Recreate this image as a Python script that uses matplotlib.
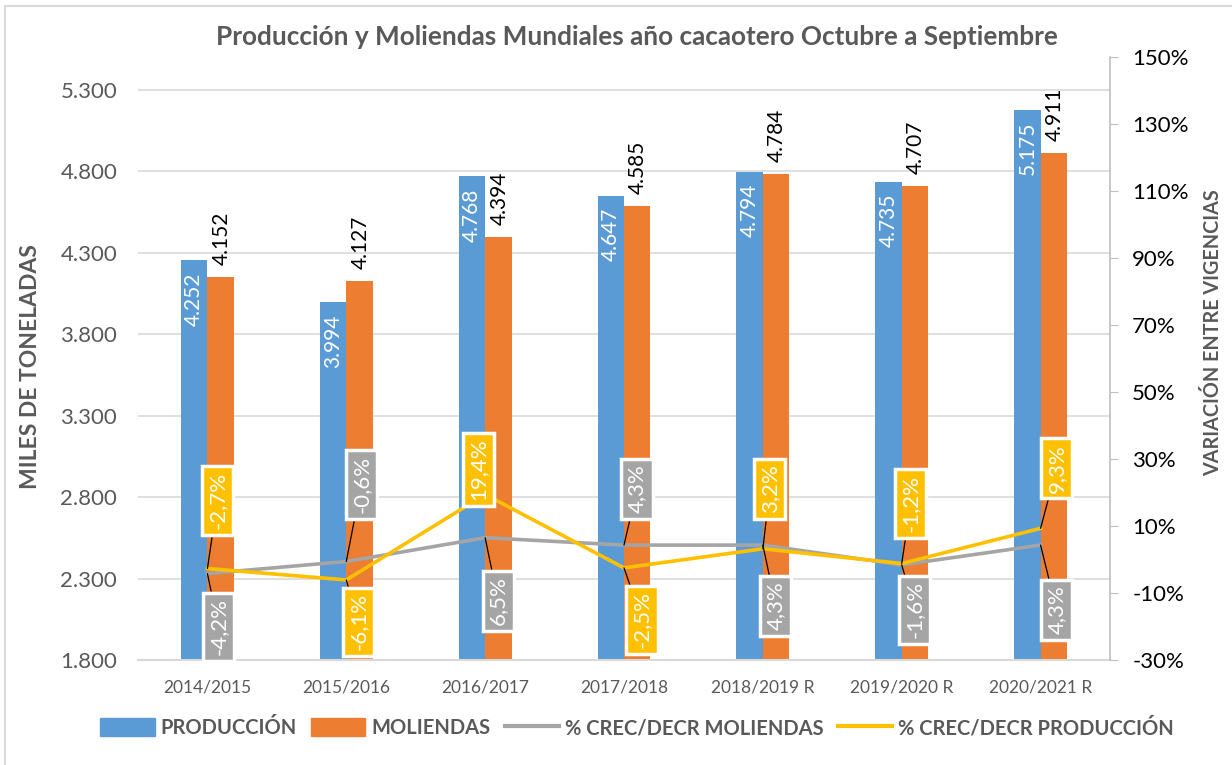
import matplotlib
matplotlib.use('Agg')
import matplotlib.pyplot as plt
from matplotlib.patches import Patch
from matplotlib.lines import Line2D

plt.rcParams['font.family'] = ['Lato', 'DejaVu Sans']

# data
years = ['2014/2015', '2015/2016', '2016/2017', '2017/2018',
         '2018/2019 R', '2019/2020 R', '2020/2021 R']
produccion = [4252, 3994, 4768, 4647, 4794, 4735, 5175]
moliendas = [4152, 4127, 4394, 4585, 4784, 4707, 4911]
pct_moliendas = [-4.2, -0.6, 6.5, 4.3, 4.3, -1.6, 4.3]
pct_produccion = [-2.7, -6.1, 19.4, -2.5, 3.2, -1.2, 9.3]

# label offsets (pixels) for the % boxes
off_prod = [(10, 68), (12, -42), (-7, 25), (18, -52), (7, 60), (9, 60), (16, 60)]
off_mol = [(11, -53), (15, 77), (13, -63), (13, 56), (13, -61), (13, -45), (16, -65)]

BLUE = '#5B9BD5'
ORANGE = '#ED7D31'
GRAY = '#A5A5A5'
YELLOW = '#FFC000'
TXT = '#595959'


def miles(v):
    return '{:,}'.format(v).replace(',', '.')


def pct(v):
    return '{:.1f}%'.format(v).replace('.', ',')


fig = plt.figure(figsize=(12.32, 7.65), dpi=100)
ax = fig.add_axes([138 / 1232, 1 - 660 / 765, (1110 - 138) / 1232, (660 - 57) / 765])

x = list(range(len(years)))
w = 0.19
ax.bar([i - w / 2 for i in x], produccion, w, color=BLUE, zorder=2)
ax.bar([i + w / 2 for i in x], moliendas, w, color=ORANGE, zorder=2)

ax.set_ylim(1800, 5500)
ax.set_xlim(-0.5, len(years) - 0.5)
ax.set_yticks(range(1800, 5301, 500))
ax.set_yticklabels([miles(t) for t in range(1800, 5301, 500)])
ax.set_xticks(x)
ax.set_xticklabels(years)
ax.tick_params(axis='y', length=0, labelsize=16, labelcolor=TXT, pad=15)
ax.tick_params(axis='x', length=0, labelsize=12.5, labelcolor=TXT, pad=14)
ax.grid(axis='y', color='#D9D9D9', lw=1.2, zorder=0)
ax.set_axisbelow(True)
for s in ['top', 'left', 'right']:
    ax.spines[s].set_visible(False)
ax.spines['bottom'].set_color('#D9D9D9')
ax.spines['bottom'].set_linewidth(1.5)

for i in x:
    ax.annotate(miles(produccion[i]), (i - w / 2, produccion[i]), xytext=(0, -12),
                textcoords='offset pixels', rotation=90, ha='center', va='top',
                color='white', fontsize=15, zorder=3)
    ax.annotate(miles(moliendas[i]), (i + w / 2, moliendas[i]), xytext=(1, 12),
                textcoords='offset pixels', rotation=90, ha='center', va='bottom',
                color='black', fontsize=15, zorder=3)

ax2 = ax.twinx()
ax2.set_ylim(-30, 150)
ax2.set_yticks(range(-30, 151, 20))
ax2.set_yticklabels(['{}%'.format(t) for t in range(-30, 151, 20)])
ax2.tick_params(axis='y', direction='out', length=6, color='#BFBFBF',
                labelsize=16, labelcolor='black', pad=10)
for s in ['top', 'left', 'bottom']:
    ax2.spines[s].set_visible(False)
ax2.spines['right'].set_color('#BFBFBF')
ax2.spines['right'].set_linewidth(1.2)

ax2.plot(x, pct_moliendas, color=GRAY, lw=2.6, zorder=3)
ax2.plot(x, pct_produccion, color=YELLOW, lw=2.6, zorder=4)


def box_labels(vals, offs, col):
    for i, v in enumerate(vals):
        dx, dy = offs[i]
        arrow = dict(arrowstyle='-', color='black', lw=0.9, shrinkA=0, shrinkB=0)
        if abs(dy) < 35:
            arrow = None
        ax2.annotate(pct(v), (i, v), xytext=(dx, dy), textcoords='offset pixels',
                     rotation=90, ha='center', va='center', color='white', fontsize=16,
                     bbox=dict(boxstyle='square,pad=0.25', fc=col, ec='white', lw=2.5),
                     arrowprops=arrow, zorder=6)


box_labels(pct_moliendas, off_mol, GRAY)
box_labels(pct_produccion, off_prod, YELLOW)

fig.text(637 / 1232, 1 - 37 / 765,
         'Producción y Moliendas Mundiales año cacaotero Octubre a Septiembre',
         ha='center', va='center', fontsize=18.8, fontweight='bold', color=TXT)
fig.text(31 / 1232, 1 - 367 / 765, 'MILES DE TONELADAS', rotation=90, ha='center',
         va='center', fontsize=16.5, fontweight='bold', color=TXT)
fig.text(1213 / 1232, 1 - 333 / 765, 'VARIACIÓN ENTRE VIGENCIAS', rotation=90,
         ha='center', va='center', fontsize=14.2, fontweight='bold', color=TXT)

handles = [Patch(color=BLUE), Patch(color=ORANGE),
           Line2D([], [], color=GRAY, lw=3), Line2D([], [], color=YELLOW, lw=3)]
names = ['PRODUCCIÓN', 'MOLIENDAS', '% CREC/DECR MOLIENDAS', '% CREC/DECR PRODUCCIÓN']
leg = fig.legend(handles, names, loc='center', bbox_to_anchor=(637 / 1232, 1 - 728 / 765),
                 ncol=4, frameon=False, fontsize=14.5, handlelength=2.7, handleheight=1.0,
                 handletextpad=0.3, columnspacing=0.7)
for t in leg.get_texts():
    t.set_color(TXT)
    t.set_fontweight('bold')

# chart border (left and top edges visible)
fig.add_artist(Line2D([5 / 1232, 5 / 1232], [0, 1 - 6 / 765], color='#D9D9D9', lw=1.5))
fig.add_artist(Line2D([5 / 1232, 1], [1 - 6 / 765, 1 - 6 / 765], color='#D9D9D9', lw=1.5))

fig.savefig('out.png', dpi=100)
